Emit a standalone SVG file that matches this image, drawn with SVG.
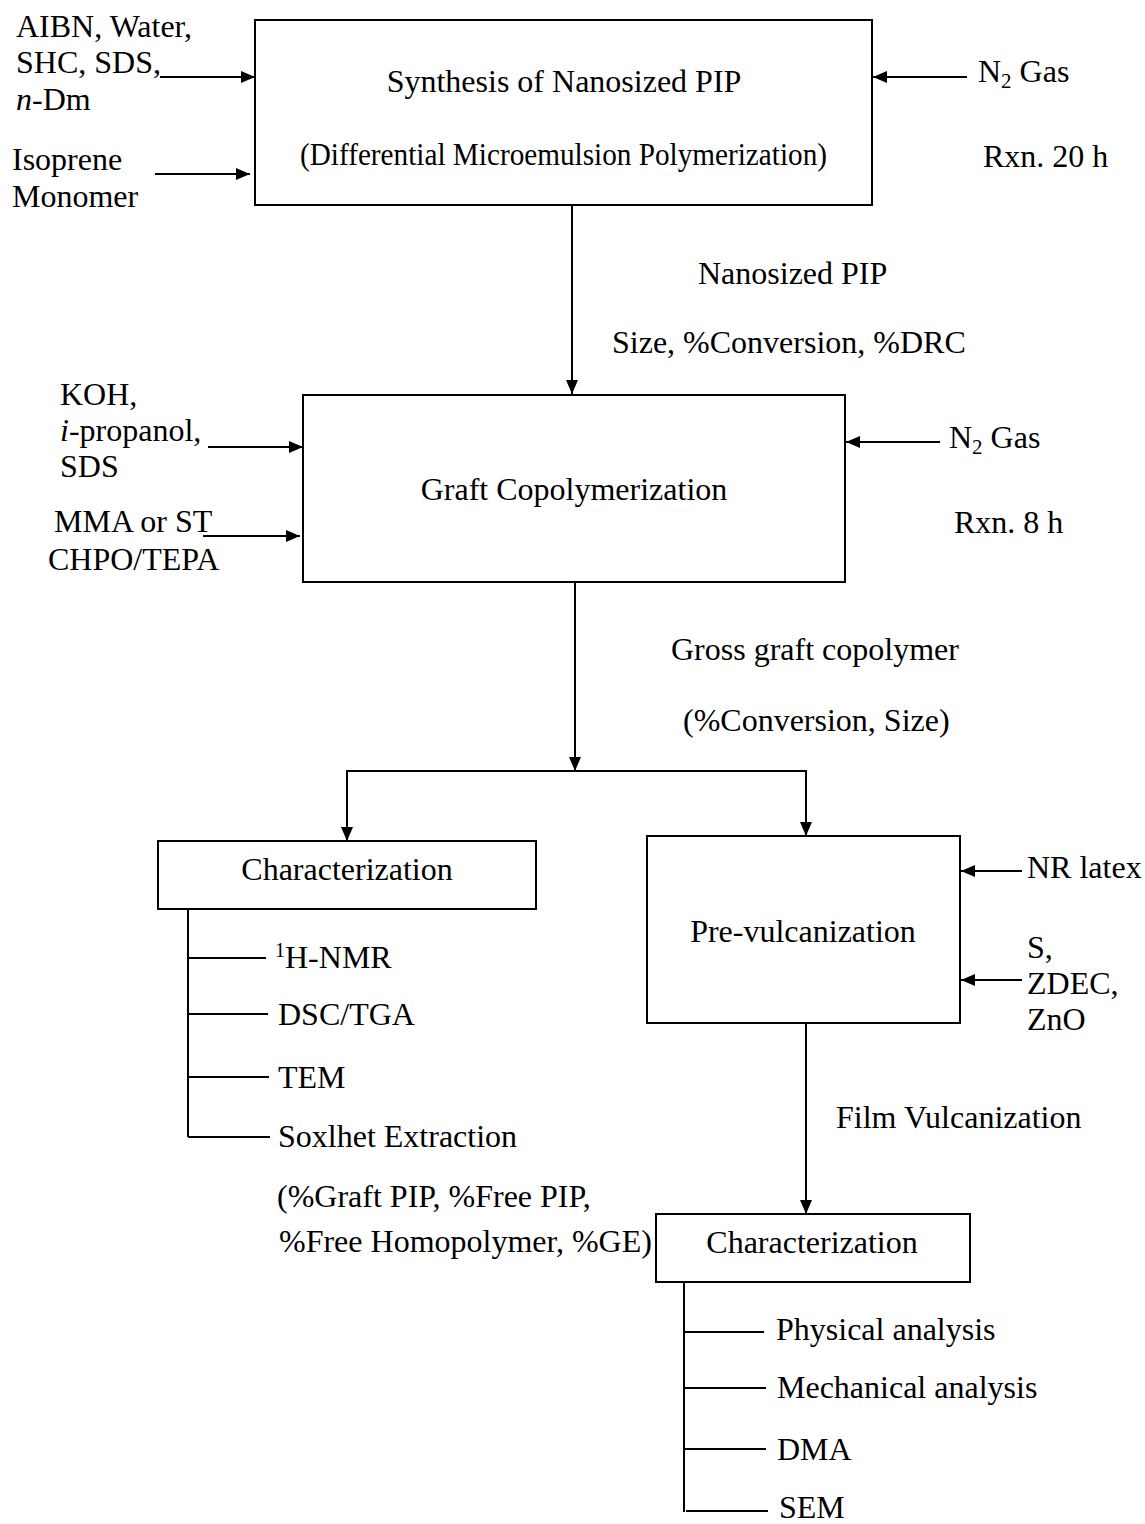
<svg xmlns="http://www.w3.org/2000/svg" width="1145" height="1524" viewBox="0 0 1145 1524">
<style>
text{font-family:"Liberation Serif","Times New Roman",serif;font-size:32px;fill:#000}
.box{fill:#fff;stroke:#000;stroke-width:2}
.ln{stroke:#000;stroke-width:2;fill:none}
.c{text-anchor:middle}
</style>
<defs>
<marker id="ah" markerUnits="userSpaceOnUse" markerWidth="14" markerHeight="12" refX="14" refY="6" orient="auto">
<path d="M0,0 L14,6 L0,12 z" fill="#000"/>
</marker>
</defs>
<rect width="1145" height="1524" fill="#fff"/>
<g id="connectors">
<line class="ln" x1="160" y1="77" x2="255" y2="77" marker-end="url(#ah)"/>
<line class="ln" x1="155" y1="174" x2="250" y2="174" marker-end="url(#ah)"/>
<line class="ln" x1="967" y1="77" x2="873" y2="77" marker-end="url(#ah)"/>
<line class="ln" x1="572" y1="205" x2="572" y2="394" marker-end="url(#ah)"/>
<line class="ln" x1="208" y1="447" x2="303" y2="447" marker-end="url(#ah)"/>
<line class="ln" x1="203" y1="536" x2="300" y2="536" marker-end="url(#ah)"/>
<line class="ln" x1="940" y1="442" x2="846" y2="442" marker-end="url(#ah)"/>
<line class="ln" x1="575" y1="582" x2="575" y2="771" marker-end="url(#ah)"/>
<line class="ln" x1="346" y1="771" x2="807" y2="771"/>
<line class="ln" x1="347" y1="771" x2="347" y2="841" marker-end="url(#ah)"/>
<line class="ln" x1="806" y1="771" x2="806" y2="836" marker-end="url(#ah)"/>
<line class="ln" x1="1022" y1="871" x2="961" y2="871" marker-end="url(#ah)"/>
<line class="ln" x1="1022" y1="980" x2="961" y2="980" marker-end="url(#ah)"/>
<line class="ln" x1="806" y1="1023" x2="806" y2="1214" marker-end="url(#ah)"/>
<path class="ln" d="M188,909 V1137 M188,958 H266 M188,1014 H268 M188,1077 H269 M188,1137 H270"/>
<path class="ln" d="M684,1282 V1512 M684,1332 H764 M684,1388 H766 M684,1449 H766 M686,1511 H768"/>
</g>
<g id="inputs-1">
<text x="16" y="37">AIBN, Water,</text>
<text x="16" y="73">SHC, SDS,</text>
<text x="16" y="110"><tspan font-style="italic">n</tspan>-Dm</text>
<text x="12" y="170">Isoprene</text>
<text x="12" y="207">Monomer</text>
<text x="978" y="82">N<tspan font-size="21" dy="6">2</tspan><tspan dy="-6"> Gas</tspan></text>
<text x="983" y="167">Rxn. 20 h</text>
</g>
<g id="node-synthesis">
<rect class="box" x="255" y="20" width="617" height="185"/>
<text class="c" x="564" y="92">Synthesis of Nanosized PIP</text>
<text x="300" y="165" font-size="31" textLength="527" lengthAdjust="spacingAndGlyphs">(Differential Microemulsion Polymerization)</text>
</g>
<g id="label-nanosized">
<text x="698" y="284">Nanosized PIP</text>
<text x="612" y="353">Size, %Conversion, %DRC</text>
</g>
<g id="inputs-2">
<text x="60" y="405">KOH,</text>
<text x="60" y="441"><tspan font-style="italic">i</tspan>-propanol,</text>
<text x="60" y="477">SDS</text>
<text x="54" y="532">MMA or ST</text>
<text x="48" y="570">CHPO/TEPA</text>
<text x="949" y="448">N<tspan font-size="21" dy="6">2</tspan><tspan dy="-6"> Gas</tspan></text>
<text x="954" y="533">Rxn. 8 h</text>
</g>
<g id="node-graft">
<rect class="box" x="303" y="395" width="542" height="187"/>
<text class="c" x="574" y="500">Graft Copolymerization</text>
</g>
<g id="label-gross">
<text x="671" y="660">Gross graft copolymer</text>
<text x="683" y="731">(%Conversion, Size)</text>
</g>
<g id="node-characterization-1">
<rect class="box" x="158" y="841" width="378" height="68"/>
<text class="c" x="347" y="880">Characterization</text>
</g>
<g id="items-1">
<text x="275" y="968"><tspan font-size="20" dy="-11">1</tspan><tspan dy="11">H-NMR</tspan></text>
<text x="278" y="1025">DSC/TGA</text>
<text x="278" y="1088">TEM</text>
<text x="278" y="1147">Soxlhet Extraction</text>
<text x="277" y="1207">(%Graft PIP, %Free PIP,</text>
<text x="279" y="1252">%Free Homopolymer, %GE)</text>
</g>
<g id="node-prevulcanization">
<rect class="box" x="647" y="836" width="313" height="187"/>
<text class="c" x="803" y="942">Pre-vulcanization</text>
</g>
<g id="inputs-3">
<text x="1027" y="878">NR latex</text>
<text x="1027" y="958">S,</text>
<text x="1027" y="994">ZDEC,</text>
<text x="1027" y="1030">ZnO</text>
<text x="836" y="1128">Film Vulcanization</text>
</g>
<g id="node-characterization-2">
<rect class="box" x="656" y="1214" width="314" height="68"/>
<text class="c" x="812" y="1253">Characterization</text>
</g>
<g id="items-2">
<text x="776" y="1340">Physical analysis</text>
<text x="777" y="1398">Mechanical analysis</text>
<text x="777" y="1460">DMA</text>
<text x="779" y="1518">SEM</text>
</g>
</svg>
